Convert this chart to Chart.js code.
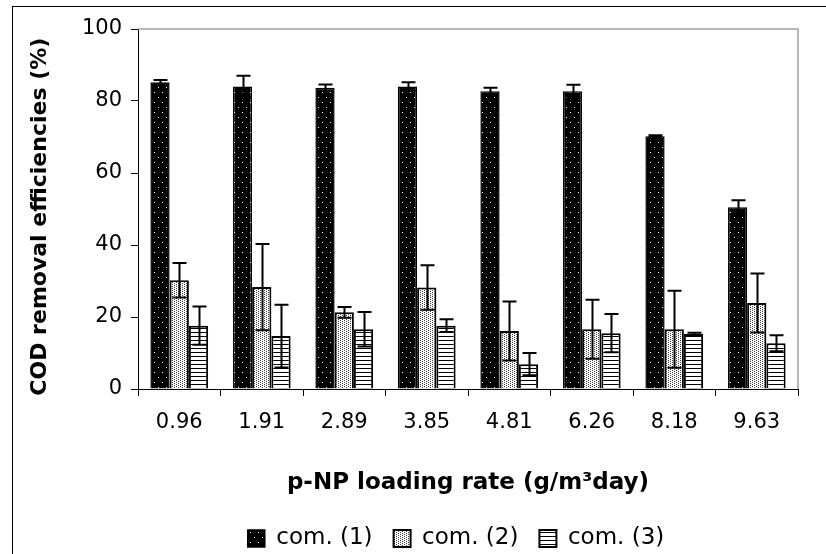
<!DOCTYPE html>
<html>
<head>
<meta charset="utf-8">
<script src="https://cdn.jsdelivr.net/npm/chart.js@4/dist/chart.umd.min.js"></script>
<style>
  html, body { margin: 0; padding: 0; background: #ffffff; }
  #wrap { width: 826px; height: 554px; position: relative; }
</style>
</head>
<body>
<div id="wrap"><canvas id="c" width="826" height="554"></canvas></div>
<script>
// ---- data ----
const categories = ['0.96', '1.91', '2.89', '3.85', '4.81', '6.26', '8.18', '9.63'];
const com1 = [85.2, 84.0, 83.7, 84.0, 82.7, 82.7, 70.2, 50.5];
const com1Err = [0.6, 3.0, 0.9, 1.2, 1.0, 1.8, 0.3, 1.9];
const com2 = [30.2, 28.3, 21.3, 28.2, 16.1, 16.6, 16.6, 23.9];
const com2Err = [4.8, 12.0, 1.5, 6.2, 8.2, 8.2, 10.7, 8.2];
const com3 = [17.6, 14.7, 16.6, 17.6, 6.9, 15.5, 15.3, 12.7];
const com3Err = [5.3, 8.7, 4.8, 1.8, 3.1, 5.3, 0.3, 2.2];
const yTicks = [0, 20, 40, 60, 80, 100];
const seriesNames = ['com. (1)', 'com. (2)', 'com. (3)'];
const xTitle = 'p-NP loading rate (g/m\u00B3day)';
const yTitle = 'COD removal efficiencies (%)';

// ---- fill patterns ----
function makePattern(w, h, bg, fg, pts) {
  const cv = document.createElement('canvas');
  cv.width = w; cv.height = h;
  const g = cv.getContext('2d');
  g.fillStyle = bg; g.fillRect(0, 0, w, h);
  g.fillStyle = fg;
  pts.forEach(p => g.fillRect(p[0], p[1], p[2] || 1, p[3] || 1));
  return document.getElementById('c').getContext('2d').createPattern(cv, 'repeat');
}
const patBlackDots = makePattern(8, 10, '#000000', '#ffffff', [[2, 2], [6, 7]]);
const patFineDots = makePattern(4, 4, '#ffffff', '#3a3a3a', [[0, 0], [2, 1], [0, 2], [2, 3]]);
const patHLines = makePattern(4, 4, '#ffffff', '#000000', [[0, 0, 4, 1]]);

const errors = [com1Err, com2Err, com3Err];

const errorBarPlugin = {
  id: 'errorBars',
  afterDatasetsDraw(chart) {
    const ctx = chart.ctx;
    const ys = chart.scales.y;
    ctx.save();
    ctx.strokeStyle = '#000000';
    ctx.lineWidth = 2;
    chart.data.datasets.forEach((ds, di) => {
      const meta = chart.getDatasetMeta(di);
      meta.data.forEach((el, i) => {
        const v = ds.data[i], e = errors[di][i];
        const x = Math.round(el.x) + 0.5;
        const yt = ys.getPixelForValue(v + e);
        const yb = ys.getPixelForValue(Math.max(0, v - e));
        const hw = 7;
        ctx.beginPath();
        ctx.moveTo(x, yt); ctx.lineTo(x, yb);
        ctx.moveTo(x - hw, yt); ctx.lineTo(x + hw, yt);
        ctx.moveTo(x - hw, yb); ctx.lineTo(x + hw, yb);
        ctx.stroke();
      });
    });
    ctx.restore();
  }
};

const framePlugin = {
  id: 'frame',
  beforeDraw(chart) {
    const ctx = chart.ctx;
    ctx.save();
    ctx.fillStyle = '#ffffff';
    ctx.fillRect(0, 0, chart.width, chart.height);
    ctx.strokeStyle = '#000000';
    ctx.lineWidth = 1;
    ctx.strokeRect(12.5, 6.5, 1200, 1200);
    ctx.restore();
  },
  beforeDatasetsDraw(chart) {
    const a = chart.chartArea;
    const ctx = chart.ctx;
    ctx.save();
    ctx.strokeStyle = '#a0a0a0';
    ctx.lineWidth = 1.5;
    ctx.beginPath();
    ctx.moveTo(a.left, a.top); ctx.lineTo(a.right, a.top); ctx.lineTo(a.right, a.bottom);
    ctx.stroke();
    ctx.restore();
  },
  afterLayout(chart) {
    const l = chart.legend;
    const dx = -12, dy = 6;
    l.left += dx; l.right += dx; l.top += dy; l.bottom += dy;
  }
};

Chart.defaults.font.family = '"DejaVu Sans", "Liberation Sans", Arial, sans-serif';
Chart.defaults.color = '#000000';

new Chart(document.getElementById('c'), {
  type: 'bar',
  data: {
    labels: categories,
    datasets: [
      { label: seriesNames[0], data: com1, backgroundColor: patBlackDots, borderColor: '#000000', borderWidth: 1.5 },
      { label: seriesNames[1], data: com2, backgroundColor: patFineDots, borderColor: '#000000', borderWidth: 2 },
      { label: seriesNames[2], data: com3, backgroundColor: patHLines, borderColor: '#000000', borderWidth: 2 }
    ]
  },
  options: {
    responsive: false,
    animation: false,
    devicePixelRatio: 1,
    layout: { padding: { left: 0, top: 29, right: 28, bottom: 0 } },
    datasets: { bar: { categoryPercentage: 0.70, barPercentage: 1.0 } },
    plugins: {
      legend: {
        position: 'bottom',
        fullSize: false,
        labels: {
          boxWidth: 17, boxHeight: 17, padding: 21,
          font: { size: 23 }, color: '#000000'
        }
      },
      tooltip: { enabled: false }
    },
    scales: {
      x: {
        grid: { display: true, drawOnChartArea: false, drawTicks: true, tickLength: 7, color: '#000000', offset: true },
        border: { display: true, color: '#000000', width: 1 },
        ticks: { font: { size: 21 }, color: '#000000', padding: 14, maxRotation: 0, autoSkip: false },
        title: { display: true, text: xTitle, font: { size: 23, weight: 'bold' }, color: '#000000', padding: { top: 0, bottom: 3 } },
        afterFit(scale) { scale.height = 111; }
      },
      y: {
        min: 0, max: 100,
        afterBuildTicks(scale) { scale.ticks = yTicks.map(v => ({ value: v })); },
        grid: { display: true, drawOnChartArea: false, drawTicks: true, tickLength: 7, color: '#000000' },
        border: { display: true, color: '#000000', width: 1 },
        ticks: { font: { size: 21 }, color: '#000000', padding: 9 },
        title: { display: true, text: yTitle + '  ', font: { size: 22, weight: 'bold' }, color: '#000000', padding: { top: 27, bottom: 0 } },
        afterFit(scale) { scale.width = 138; }
      }
    }
  },
  plugins: [framePlugin, errorBarPlugin]
});
</script>
</body>
</html>
